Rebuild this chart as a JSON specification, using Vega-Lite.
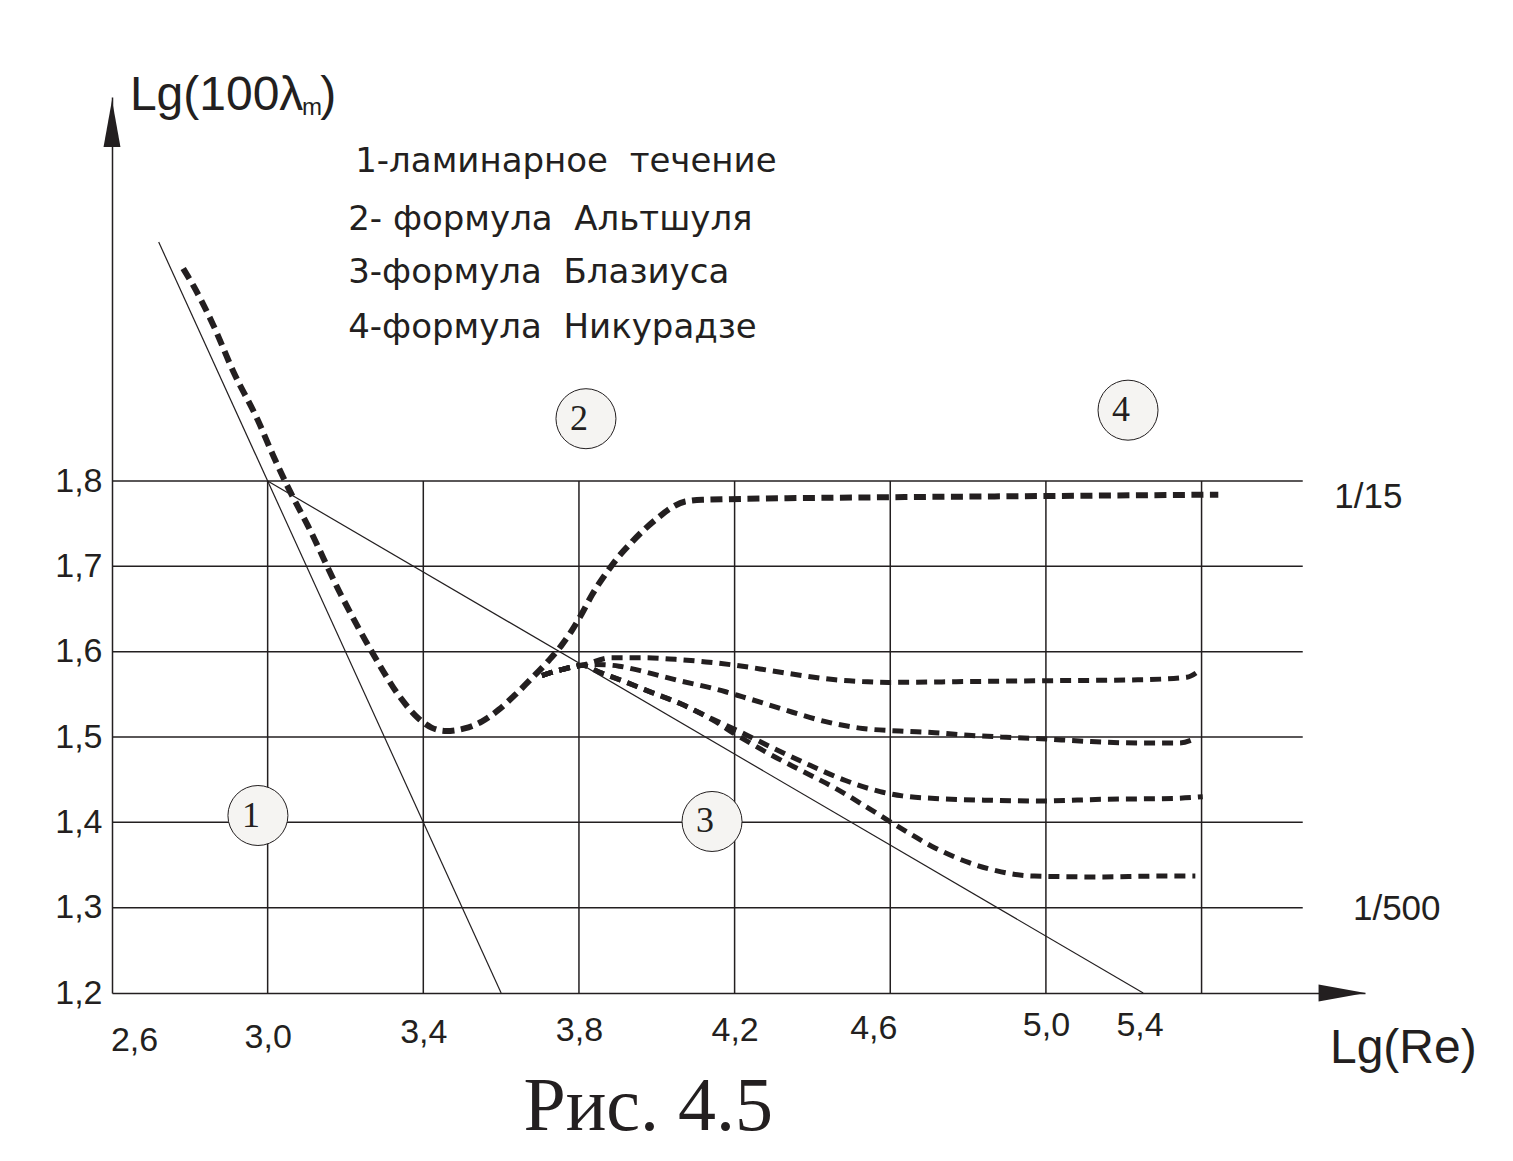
{
  "$schema": "https://vega.github.io/schema/vega-lite/v6.json",
  "width": 1253,
  "height": 896,
  "autosize": {"type": "none"},
  "padding": {"left": 112, "top": 97, "right": 148, "bottom": 168},
  "background": "white",
  "config": {"view": {"stroke": null}},
  "datasets": {
    "hgrid": [{"y": 1.3}, {"y": 1.4}, {"y": 1.5}, {"y": 1.6}, {"y": 1.7}, {"y": 1.8}],
    "vgrid": [{"x": 3.0}, {"x": 3.4}, {"x": 3.8}, {"x": 4.2}, {"x": 4.6}, {"x": 5.0}, {"x": 5.4}],
    "thin": [
      {"s": "1", "x": 2.72, "y": 2.08}, {"s": "1", "x": 3.6, "y": 1.2},
      {"s": "3", "x": 3.0, "y": 1.8}, {"s": "3", "x": 5.25, "y": 1.2}
    ],
    "curveTop": [
      {"x": 2.783, "y": 2.049}, {"x": 2.809, "y": 2.029}, {"x": 2.861, "y": 1.982}, {"x": 2.912, "y": 1.928},
      {"x": 2.974, "y": 1.872}, {"x": 3.015, "y": 1.829}, {"x": 3.054, "y": 1.791}, {"x": 3.103, "y": 1.748},
      {"x": 3.188, "y": 1.667}, {"x": 3.274, "y": 1.595}, {"x": 3.335, "y": 1.55}, {"x": 3.387, "y": 1.522},
      {"x": 3.421, "y": 1.511}, {"x": 3.459, "y": 1.507}, {"x": 3.506, "y": 1.51}, {"x": 3.55, "y": 1.518},
      {"x": 3.594, "y": 1.532}, {"x": 3.635, "y": 1.549}, {"x": 3.679, "y": 1.569}, {"x": 3.723, "y": 1.59},
      {"x": 3.756, "y": 1.608}, {"x": 3.782, "y": 1.625}, {"x": 3.808, "y": 1.645}, {"x": 3.834, "y": 1.667},
      {"x": 3.867, "y": 1.69}, {"x": 3.903, "y": 1.712}, {"x": 3.937, "y": 1.729}, {"x": 3.97, "y": 1.744},
      {"x": 4.006, "y": 1.758}, {"x": 4.035, "y": 1.768}, {"x": 4.073, "y": 1.776}, {"x": 4.117, "y": 1.778},
      {"x": 4.6, "y": 1.781}, {"x": 4.885, "y": 1.782}, {"x": 5.443, "y": 1.784}
    ],
    "curves": [
      {"s": "B", "x": 3.705, "y": 1.572}, {"s": "B", "x": 3.756, "y": 1.579}, {"s": "B", "x": 3.808, "y": 1.584},
      {"s": "B", "x": 3.885, "y": 1.593}, {"s": "B", "x": 3.963, "y": 1.593}, {"s": "B", "x": 4.048, "y": 1.591},
      {"s": "B", "x": 4.126, "y": 1.588}, {"s": "B", "x": 4.203, "y": 1.584}, {"s": "B", "x": 4.29, "y": 1.578},
      {"s": "B", "x": 4.374, "y": 1.572}, {"s": "B", "x": 4.459, "y": 1.567}, {"s": "B", "x": 4.528, "y": 1.565},
      {"s": "B", "x": 4.597, "y": 1.564}, {"s": "B", "x": 4.801, "y": 1.565}, {"s": "B", "x": 5.005, "y": 1.566},
      {"s": "B", "x": 5.236, "y": 1.567}, {"s": "B", "x": 5.362, "y": 1.57}, {"s": "B", "x": 5.389, "y": 1.576},
      {"s": "C", "x": 3.705, "y": 1.572}, {"s": "C", "x": 3.756, "y": 1.579}, {"s": "C", "x": 3.808, "y": 1.584},
      {"s": "C", "x": 3.841, "y": 1.585}, {"s": "C", "x": 3.903, "y": 1.583}, {"s": "C", "x": 3.955, "y": 1.578},
      {"s": "C", "x": 4.006, "y": 1.572}, {"s": "C", "x": 4.058, "y": 1.566}, {"s": "C", "x": 4.126, "y": 1.559},
      {"s": "C", "x": 4.177, "y": 1.553}, {"s": "C", "x": 4.221, "y": 1.547}, {"s": "C", "x": 4.272, "y": 1.54},
      {"s": "C", "x": 4.349, "y": 1.529}, {"s": "C", "x": 4.434, "y": 1.518}, {"s": "C", "x": 4.529, "y": 1.51},
      {"s": "C", "x": 4.623, "y": 1.507}, {"s": "C", "x": 4.715, "y": 1.505}, {"s": "C", "x": 4.801, "y": 1.502},
      {"s": "C", "x": 4.885, "y": 1.5}, {"s": "C", "x": 4.987, "y": 1.498}, {"s": "C", "x": 5.102, "y": 1.495},
      {"s": "C", "x": 5.236, "y": 1.493}, {"s": "C", "x": 5.343, "y": 1.493}, {"s": "C", "x": 5.383, "y": 1.498},
      {"s": "D", "x": 3.705, "y": 1.572}, {"s": "D", "x": 3.756, "y": 1.579}, {"s": "D", "x": 3.808, "y": 1.584},
      {"s": "D", "x": 3.852, "y": 1.576}, {"s": "D", "x": 3.911, "y": 1.566}, {"s": "D", "x": 3.988, "y": 1.552},
      {"s": "D", "x": 4.066, "y": 1.538}, {"s": "D", "x": 4.143, "y": 1.521}, {"s": "D", "x": 4.228, "y": 1.503},
      {"s": "D", "x": 4.29, "y": 1.489}, {"s": "D", "x": 4.374, "y": 1.471}, {"s": "D", "x": 4.485, "y": 1.449},
      {"s": "D", "x": 4.574, "y": 1.436}, {"s": "D", "x": 4.631, "y": 1.431}, {"s": "D", "x": 4.715, "y": 1.428},
      {"s": "D", "x": 4.842, "y": 1.426}, {"s": "D", "x": 4.98, "y": 1.425}, {"s": "D", "x": 5.148, "y": 1.427},
      {"s": "D", "x": 5.327, "y": 1.428}, {"s": "D", "x": 5.403, "y": 1.43},
      {"s": "E", "x": 3.705, "y": 1.572}, {"s": "E", "x": 3.756, "y": 1.579}, {"s": "E", "x": 3.808, "y": 1.584},
      {"s": "E", "x": 3.852, "y": 1.576}, {"s": "E", "x": 3.911, "y": 1.566}, {"s": "E", "x": 3.988, "y": 1.552},
      {"s": "E", "x": 4.066, "y": 1.538}, {"s": "E", "x": 4.143, "y": 1.52}, {"s": "E", "x": 4.203, "y": 1.503},
      {"s": "E", "x": 4.29, "y": 1.48}, {"s": "E", "x": 4.374, "y": 1.46}, {"s": "E", "x": 4.459, "y": 1.44},
      {"s": "E", "x": 4.546, "y": 1.416}, {"s": "E", "x": 4.631, "y": 1.392}, {"s": "E", "x": 4.715, "y": 1.37},
      {"s": "E", "x": 4.801, "y": 1.353}, {"s": "E", "x": 4.885, "y": 1.342}, {"s": "E", "x": 4.97, "y": 1.337},
      {"s": "E", "x": 5.148, "y": 1.336}, {"s": "E", "x": 5.282, "y": 1.337}, {"s": "E", "x": 5.384, "y": 1.337}
    ],
    "regions": [
      {"n": "1", "x": 2.975, "y": 1.408}, {"n": "2", "x": 3.818, "y": 1.873},
      {"n": "3", "x": 4.142, "y": 1.401}, {"n": "4", "x": 5.211, "y": 1.883}
    ],
    "notes": [
      {"t": "1-ламинарное\u00a0 течение", "x": 3.225, "y": 2.174},
      {"t": "2- формула\u00a0 Альтшуля", "x": 3.207, "y": 2.106},
      {"t": "3-формула\u00a0 Блазиуса", "x": 3.207, "y": 2.044},
      {"t": "4-формула\u00a0 Никурадзе", "x": 3.207, "y": 1.979}
    ],
    "ratios": [{"t": "1/15", "x": 5.741, "y": 1.781}, {"t": "1/500", "x": 5.789, "y": 1.298}],
    "bigTitles": [
      {"t": "Lg(100λ", "x": 2.646, "y": 2.235},
      {"t": ")", "x": 3.135, "y": 2.235},
      {"t": "Lg(Re)", "x": 5.73, "y": 1.118}
    ],
    "subTitles": [{"t": "m", "x": 3.088, "y": 2.229}],
    "caption": [{"t": "Рис. 4.5", "x": 3.978, "y": 1.039}],
    "yArrow": [{"x": 2.6, "y": 2.219}],
    "xArrow": [{"x": 5.761, "y": 1.2}]
  },
  "layer": [
    {
      "data": {"name": "thin"},
      "mark": {"type": "line", "stroke": "#231f20", "strokeWidth": 1.2},
      "encoding": {
        "x": {
          "field": "x", "type": "quantitative",
          "scale": {"domain": [2.6, 5.82], "nice": false, "zero": false},
          "axis": {
            "title": null, "grid": false, "ticks": false,
            "values": [2.6, 3.0, 3.4, 3.8, 4.2, 4.6, 5.0, 5.4],
            "labelExpr": "replace(format(datum.value, '.1f'), '.', ',')",
            "labelFont": "Liberation Sans", "labelFontSize": 34, "labelColor": "#231f20",
            "labelFlush": false, "labelOverlap": false,
            "labelOffset": {"condition": [
              {"test": "abs(datum.value-2.6)<0.01", "value": 22},
              {"test": "abs(datum.value-4.6)<0.01", "value": -17},
              {"test": "abs(datum.value-5.4)<0.01", "value": -62}
            ], "value": 0},
            "labelPadding": {"condition": [
              {"test": "datum.value<2.8", "value": 30},
              {"test": "datum.value<3.2", "value": 27},
              {"test": "datum.value<3.6", "value": 22},
              {"test": "datum.value<4.4", "value": 20},
              {"test": "datum.value<4.8", "value": 18}
            ], "value": 15},
            "domainColor": "#231f20", "domainWidth": 1.5
          }
        },
        "y": {
          "field": "y", "type": "quantitative",
          "scale": {"domain": [1.2, 2.25], "nice": false, "zero": false},
          "axis": {
            "title": null, "grid": false, "ticks": false,
            "values": [1.2, 1.3, 1.4, 1.5, 1.6, 1.7, 1.8],
            "labelExpr": "replace(format(datum.value, '.1f'), '.', ',')",
            "labelFont": "Liberation Sans", "labelFontSize": 34, "labelColor": "#231f20",
            "labelPadding": 10, "labelFlush": false, "labelOverlap": false,
            "domainColor": "#231f20", "domainWidth": 1.5
          }
        },
        "detail": {"field": "s"}
      }
    },
    {
      "data": {"name": "hgrid"},
      "mark": {"type": "rule", "stroke": "#231f20", "strokeWidth": 1.5},
      "encoding": {
        "y": {"field": "y", "type": "quantitative", "scale": {"domain": [1.2, 2.25], "nice": false, "zero": false}},
        "x": {"datum": 2.6, "type": "quantitative", "scale": {"domain": [2.6, 5.82], "nice": false, "zero": false}},
        "x2": {"datum": 5.66}
      }
    },
    {
      "data": {"name": "vgrid"},
      "mark": {"type": "rule", "stroke": "#231f20", "strokeWidth": 1.5},
      "encoding": {
        "x": {"field": "x", "type": "quantitative", "scale": {"domain": [2.6, 5.82], "nice": false, "zero": false}},
        "y": {"datum": 1.2, "type": "quantitative", "scale": {"domain": [1.2, 2.25], "nice": false, "zero": false}},
        "y2": {"datum": 1.8}
      }
    },
    {
      "data": {"name": "curveTop"},
      "mark": {"type": "line", "stroke": "#231f20", "strokeWidth": 6, "strokeDash": [12, 6.5], "interpolate": "monotone"},
      "encoding": {
        "x": {"field": "x", "type": "quantitative", "scale": {"domain": [2.6, 5.82], "nice": false, "zero": false}},
        "y": {"field": "y", "type": "quantitative", "scale": {"domain": [1.2, 2.25], "nice": false, "zero": false}}
      }
    },
    {
      "data": {"name": "curves"},
      "mark": {"type": "line", "stroke": "#231f20", "strokeWidth": 5, "strokeDash": [11, 7], "interpolate": "monotone"},
      "encoding": {
        "x": {"field": "x", "type": "quantitative", "scale": {"domain": [2.6, 5.82], "nice": false, "zero": false}},
        "y": {"field": "y", "type": "quantitative", "scale": {"domain": [1.2, 2.25], "nice": false, "zero": false}},
        "detail": {"field": "s"}
      }
    },
    {
      "data": {"name": "regions"},
      "mark": {"type": "point", "shape": "circle", "size": 3600, "filled": true, "fill": "#f5f4f2", "stroke": "#231f20", "strokeWidth": 1, "opacity": 1},
      "encoding": {
        "x": {"field": "x", "type": "quantitative", "scale": {"domain": [2.6, 5.82], "nice": false, "zero": false}},
        "y": {"field": "y", "type": "quantitative", "scale": {"domain": [1.2, 2.25], "nice": false, "zero": false}}
      }
    },
    {
      "data": {"name": "regions"},
      "mark": {"type": "text", "font": "Liberation Serif", "fontSize": 36, "dx": -7, "align": "center", "baseline": "middle", "color": "#231f20"},
      "encoding": {
        "x": {"field": "x", "type": "quantitative", "scale": {"domain": [2.6, 5.82], "nice": false, "zero": false}},
        "y": {"field": "y", "type": "quantitative", "scale": {"domain": [1.2, 2.25], "nice": false, "zero": false}},
        "text": {"field": "n"}
      }
    },
    {
      "data": {"name": "notes"},
      "mark": {"type": "text", "font": "DejaVu Sans", "fontSize": 34, "align": "left", "baseline": "middle", "color": "#231f20"},
      "encoding": {
        "x": {"field": "x", "type": "quantitative", "scale": {"domain": [2.6, 5.82], "nice": false, "zero": false}},
        "y": {"field": "y", "type": "quantitative", "scale": {"domain": [1.2, 2.25], "nice": false, "zero": false}},
        "text": {"field": "t"}
      }
    },
    {
      "data": {"name": "ratios"},
      "mark": {"type": "text", "font": "Liberation Sans", "fontSize": 35, "align": "left", "baseline": "middle", "color": "#231f20"},
      "encoding": {
        "x": {"field": "x", "type": "quantitative", "scale": {"domain": [2.6, 5.82], "nice": false, "zero": false}},
        "y": {"field": "y", "type": "quantitative", "scale": {"domain": [1.2, 2.25], "nice": false, "zero": false}},
        "text": {"field": "t"}
      }
    },
    {
      "data": {"name": "bigTitles"},
      "mark": {"type": "text", "font": "Liberation Sans", "fontSize": 48, "align": "left", "baseline": "alphabetic", "color": "#231f20"},
      "encoding": {
        "x": {"field": "x", "type": "quantitative", "scale": {"domain": [2.6, 5.82], "nice": false, "zero": false}},
        "y": {"field": "y", "type": "quantitative", "scale": {"domain": [1.2, 2.25], "nice": false, "zero": false}},
        "text": {"field": "t"}
      }
    },
    {
      "data": {"name": "subTitles"},
      "mark": {"type": "text", "font": "Liberation Sans", "fontSize": 24, "align": "left", "baseline": "alphabetic", "color": "#231f20"},
      "encoding": {
        "x": {"field": "x", "type": "quantitative", "scale": {"domain": [2.6, 5.82], "nice": false, "zero": false}},
        "y": {"field": "y", "type": "quantitative", "scale": {"domain": [1.2, 2.25], "nice": false, "zero": false}},
        "text": {"field": "t"}
      }
    },
    {
      "data": {"name": "caption"},
      "mark": {"type": "text", "font": "Liberation Serif", "fontSize": 76, "align": "center", "baseline": "alphabetic", "color": "#231f20"},
      "encoding": {
        "x": {"field": "x", "type": "quantitative", "scale": {"domain": [2.6, 5.82], "nice": false, "zero": false}},
        "y": {"field": "y", "type": "quantitative", "scale": {"domain": [1.2, 2.25], "nice": false, "zero": false}},
        "text": {"field": "t"}
      }
    },
    {
      "data": {"name": "yArrow"},
      "mark": {"type": "point", "shape": "M0,-1L0.36,1L-0.36,1Z", "size": 2209, "filled": true, "fill": "#231f20", "strokeWidth": 0, "opacity": 1},
      "encoding": {
        "x": {"field": "x", "type": "quantitative", "scale": {"domain": [2.6, 5.82], "nice": false, "zero": false}},
        "y": {"field": "y", "type": "quantitative", "scale": {"domain": [1.2, 2.25], "nice": false, "zero": false}}
      }
    },
    {
      "data": {"name": "xArrow"},
      "mark": {"type": "point", "shape": "M1,0L-1,-0.36L-1,0.36Z", "size": 2209, "filled": true, "fill": "#231f20", "strokeWidth": 0, "opacity": 1},
      "encoding": {
        "x": {"field": "x", "type": "quantitative", "scale": {"domain": [2.6, 5.82], "nice": false, "zero": false}},
        "y": {"field": "y", "type": "quantitative", "scale": {"domain": [1.2, 2.25], "nice": false, "zero": false}}
      }
    }
  ]
}
